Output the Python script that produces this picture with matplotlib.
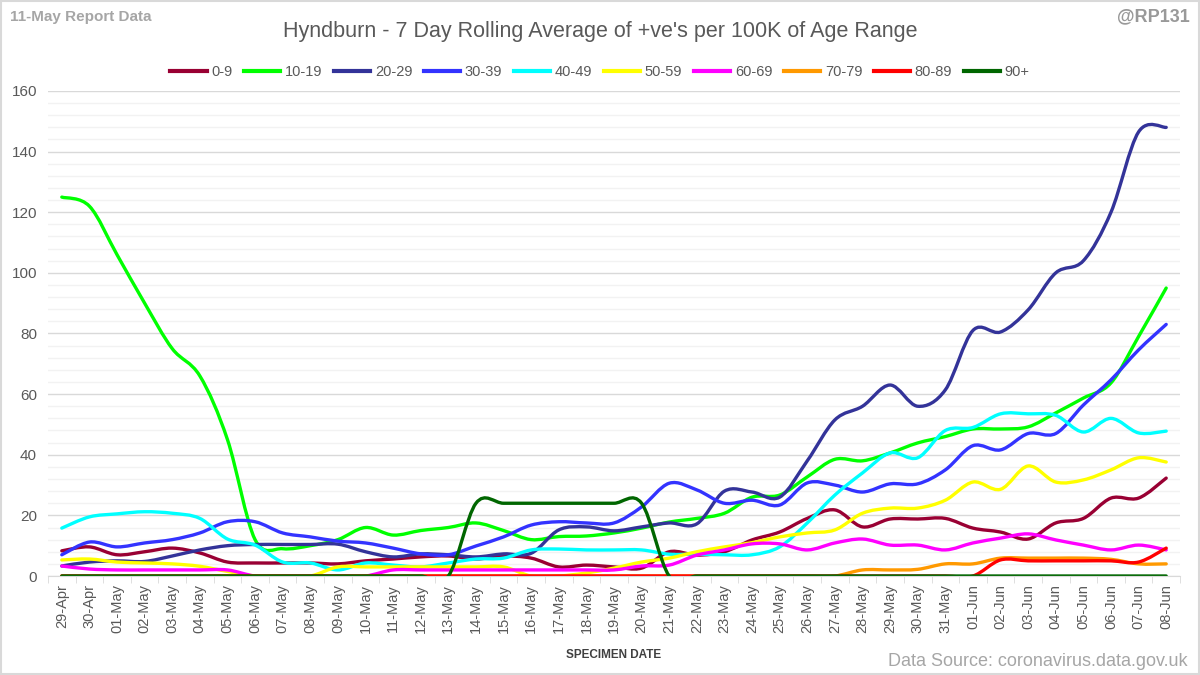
import numpy as np
import matplotlib
matplotlib.use('Agg')
import matplotlib.pyplot as plt
from matplotlib.path import Path
from matplotlib.patches import PathPatch, Rectangle
from matplotlib.lines import Line2D
from matplotlib.ticker import MultipleLocator, FixedLocator

plt.rcParams['font.family'] = ['Liberation Sans', 'DejaVu Sans']

dates = ['29-Apr', '30-Apr',
         '01-May', '02-May', '03-May', '04-May', '05-May', '06-May', '07-May', '08-May',
         '09-May', '10-May', '11-May', '12-May', '13-May', '14-May', '15-May', '16-May',
         '17-May', '18-May', '19-May', '20-May', '21-May', '22-May', '23-May', '24-May',
         '25-May', '26-May', '27-May', '28-May', '29-May', '30-May', '31-May',
         '01-Jun', '02-Jun', '03-Jun', '04-Jun', '05-Jun', '06-Jun', '07-Jun', '08-Jun']

age_0_9 = [8.3, 9.6, 7, 8, 9.2, 7.6, 4.6, 4.3, 4.3, 4.3, 4, 5, 5.6, 6.3, 6.6, 5.6, 6.6, 5.9, 3, 3.6,
           3, 2.6, 8, 6.9, 8, 11.9, 14.5, 19, 21.8, 16.2, 18.8, 18.8, 19, 15.8, 14.5, 12.2, 17.5, 19,
           25.7, 25.7, 32.3]
age_10_19 = [125, 122, 106, 90, 75, 66, 45, 12, 9, 10, 12, 16, 13.5, 15, 16, 17.5, 15, 12, 13, 13.2,
             14.2, 15.8, 17.8, 19, 20.7, 26, 26.7, 32.7, 38.5, 38, 40.6, 43.9, 46, 48.5, 48.5, 49.2,
             53.8, 58.7, 63.7, 79, 95]
age_20_29 = [3.3, 4.6, 5, 4.8, 6.6, 8.6, 10, 10.4, 10.4, 10.4, 10.5, 8, 6.3, 7.3, 7, 6.3, 7.3, 7.5,
             15.2, 16.2, 14.9, 16.2, 17.5, 17.2, 28, 27.7, 26, 38, 51.5, 56, 63, 56, 61.4, 81, 80.5,
             87.8, 100, 104, 120, 146.5, 148]
age_30_39 = [7, 11.2, 9.6, 10.9, 12, 14.2, 17.9, 17.9, 14.2, 12.9, 11.5, 10.9, 9.2, 7.3, 7, 9.9,
             12.9, 16.8, 17.9, 17.5, 17.5, 22.8, 30.6, 28.4, 24, 25, 23.4, 30.7, 30, 27.7, 30.4, 30.4,
             35, 43, 41.6, 47, 47, 56.4, 64.7, 74.6, 83]
age_40_49 = [15.8, 19.5, 20.5, 21.2, 20.7, 19, 12.2, 10.2, 4.6, 4.3, 2, 4.3, 3.6, 3, 4.3, 5.6, 5.9,
             8.6, 8.9, 8.6, 8.6, 8.6, 7.2, 7.2, 7, 7, 9.6, 17.5, 26.7, 34, 40.6, 39, 48, 49, 53.5,
             53.5, 53, 47.5, 52, 47.2, 47.8]
age_50_59 = [5.3, 5.6, 4.6, 4.3, 4, 3.2, 1.5, 0, 0, 0, 3, 3, 3, 3, 3, 3, 3, 0, 0, 1, 2.6, 4.6, 5.9,
             8, 9.6, 11, 12.9, 14.2, 15.2, 20.7, 22.4, 22.4, 25, 31, 28.6, 36.3, 31, 31.7, 35, 39, 37.6]
age_60_69 = [3.3, 2.3, 2, 2, 2, 2, 2, 0, 0, 0, 0, 0, 2, 2, 2, 2, 2, 2, 2, 2, 2, 3.3, 3.6, 6.9, 8.6,
             10.6, 10.6, 8.6, 10.9, 12.2, 10.2, 10.2, 8.6, 10.9, 12.5, 13.9, 11.9, 10.2, 8.6, 10.2, 8.6]
age_70_79 = [0, 0, 0, 0, 0, 0, 0, 0, 0, 0, 0, 0, 0, 0, 0, 0, 0, 0, 0, 0, 0, 0, 0, 0, 0, 0, 0, 0, 0,
             2, 2, 2.2, 4, 4, 5.9, 5.9, 5.9, 5.9, 5.5, 4, 4]
age_80_89 = [0, 0, 0, 0, 0, 0, 0, 0, 0, 0, 0, 0, 0, 0, 0, 0, 0, 0, 0, 0, 0, 0, 0, 0, 0, 0, 0, 0, 0,
             0, 0, 0, 0, 0, 5.3, 5, 5, 5, 5, 4.6, 9.2]
age_90_plus = [0, 0, 0, 0, 0, 0, 0, 0, 0, 0, 0, 0, 0, 0, 0, 24, 24, 24, 24, 24, 24, 24, 0, 0, 0, 0,
               0, 0, 0, 0, 0, 0, 0, 0, 0, 0, 0, 0, 0, 0, 0]

labels = ['0-9', '10-19', '20-29', '30-39', '40-49', '50-59', '60-69', '70-79', '80-89', '90+']
series = [age_0_9, age_10_19, age_20_29, age_30_39, age_40_49, age_50_59, age_60_69,
          age_70_79, age_80_89, age_90_plus]
colors = ['#990033', '#00ff00', '#333399', '#3333ff', '#00ffff', '#ffff00', '#ff00ff',
          '#ff9900', '#ff0000', '#006600']


def smooth_path(x, y):
    # excel style smoothed line: bezier segments through every point
    pts = np.column_stack([x, y]).astype(float)
    n = len(pts)
    verts = [pts[0]]
    codes = [Path.MOVETO]
    for i in range(n - 1):
        p0 = pts[max(i - 1, 0)]
        p1 = pts[i]
        p2 = pts[i + 1]
        p3 = pts[min(i + 2, n - 1)]
        verts += [p1 + (p2 - p0) / 6, p2 - (p3 - p1) / 6, p2]
        codes += [Path.CURVE4] * 3
    return Path(verts, codes)


fig = plt.figure(figsize=(12, 6.75), dpi=100)
ax = fig.add_axes([48 / 1200, 99 / 675, 1132 / 1200, 485 / 675])

x = np.arange(len(dates))
for vals, col in zip(series, colors):
    ax.add_patch(PathPatch(smooth_path(x, vals), fill=False, edgecolor=col, lw=2.4,
                           capstyle='round', joinstyle='round'))

ax.set_xlim(-0.5, len(dates) - 0.5)
ax.set_ylim(0, 160)

ax.set_yticks(range(0, 161, 20))
ax.yaxis.set_minor_locator(MultipleLocator(4))
ax.grid(which='major', axis='y', color='#d9d9d9', lw=1)
ax.grid(which='minor', axis='y', color='#f2f2f2', lw=1)
ax.set_axisbelow(True)
ax.tick_params(axis='y', which='both', length=0, labelsize=11, labelcolor='#595959', pad=8)

ax.set_xticks(x)
ax.set_xticklabels(dates, rotation=90)
ax.xaxis.set_minor_locator(FixedLocator(np.arange(-0.5, len(dates), 1)))
ax.tick_params(axis='x', which='major', length=0, labelsize=10.5, labelcolor='#595959', pad=6)
ax.tick_params(axis='x', which='minor', length=5, color='#d9d9d9')

for s in ['left', 'right', 'top']:
    ax.spines[s].set_visible(False)
ax.spines['bottom'].set_color('#d9d9d9')

handles = [Line2D([], [], color=c, lw=3) for c in colors]
fig.legend(handles, labels, loc='center', bbox_to_anchor=(0.5, 1 - 72 / 675), ncol=10,
           frameon=False, fontsize=10.5, handlelength=2.5, handletextpad=0.3,
           columnspacing=0.8, labelcolor='#595959')

fig.text(0.5, 1 - 32 / 675, "Hyndburn - 7 Day Rolling Average of +ve's per 100K of Age Range",
         ha='center', va='center', fontsize=15.5, color='#595959')
fig.text(10 / 1200, 1 - 17 / 675, '11-May Report Data', ha='left', va='center',
         fontsize=11, fontweight='bold', color='#a6a6a6')
fig.text(1190 / 1200, 1 - 17 / 675, '@RP131', ha='right', va='center',
         fontsize=13, fontweight='bold', color='#999999')
fig.text(614 / 1200, 1 - 655 / 675, 'SPECIMEN DATE', ha='center', va='center',
         fontsize=8.5, fontweight='bold', color='#404040')
fig.text(1188 / 1200, 1 - 661 / 675, 'Data Source: coronavirus.data.gov.uk', ha='right',
         va='center', fontsize=13, color='#a6a6a6')

fig.patches.append(Rectangle((0.001, 0.001), 0.998, 0.998, transform=fig.transFigure,
                             fill=False, edgecolor='#d9d9d9', lw=1.5))

fig.savefig('out.png', dpi=100)
